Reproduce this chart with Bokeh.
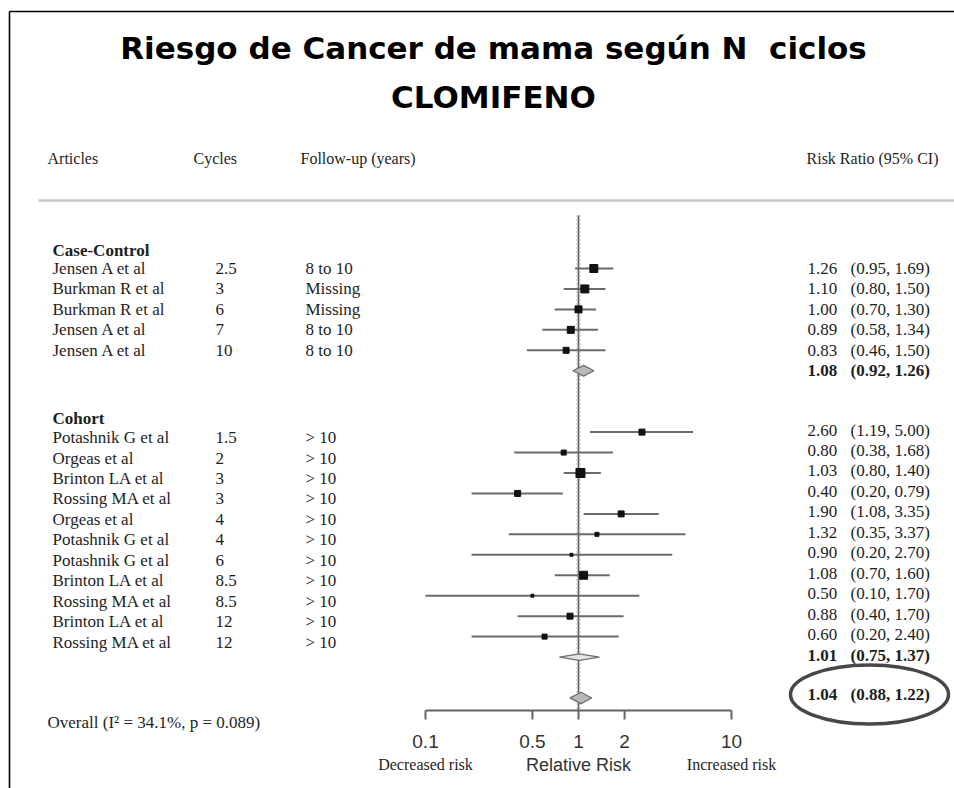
import math
from bokeh.plotting import figure
from bokeh.models import Range1d, LinearScale
from bokeh.core.properties import value
from bokeh.embed import file_html
from bokeh.resources import INLINE

# ---------------- data ----------------
title_lines = ["Riesgo de Cancer de mama según N  ciclos", "CLOMIFENO"]
header_labels = ["Articles", "Cycles", "Follow-up (years)", "Risk Ratio (95% CI)"]
group_labels = ["Case-Control", "Cohort"]

cc_articles = ["Jensen A et al", "Burkman R et al", "Burkman R et al", "Jensen A et al", "Jensen A et al"]
cc_cycles = ["2.5", "3", "6", "7", "10"]
cc_followup = ["8 to 10", "Missing", "Missing", "8 to 10", "8 to 10"]
cc_rr = [1.26, 1.10, 1.00, 0.89, 0.83]
cc_lo = [0.95, 0.80, 0.70, 0.58, 0.46]
cc_hi = [1.69, 1.50, 1.30, 1.34, 1.50]
cc_weight = [8, 8, 7, 7, 6]
cc_pooled = [1.08, 0.92, 1.26]

co_articles = ["Potashnik G et al", "Orgeas et al", "Brinton LA et al", "Rossing MA et al",
               "Orgeas et al", "Potashnik G et al", "Potashnik G et al", "Brinton LA et al",
               "Rossing MA et al", "Brinton LA et al", "Rossing MA et al"]
co_cycles = ["1.5", "2", "3", "3", "4", "4", "6", "8.5", "8.5", "12", "12"]
co_followup = ["> 10", "> 10", "> 10", "> 10", "> 10", "> 10", "> 10", "> 10", "> 10", "> 10", "> 10"]
co_rr = [2.60, 0.80, 1.03, 0.40, 1.90, 1.32, 0.90, 1.08, 0.50, 0.88, 0.60]
co_lo = [1.19, 0.38, 0.80, 0.20, 1.08, 0.35, 0.20, 0.70, 0.10, 0.40, 0.20]
co_hi = [5.00, 1.68, 1.40, 0.79, 3.35, 3.37, 2.70, 1.60, 1.70, 1.70, 2.40]
# upper whisker ends as drawn in the published figure (some differ from printed CI)
co_hi_drawn = [5.6, 1.68, 1.40, 0.79, 3.35, 5.0, 4.1, 1.60, 2.5, 1.97, 1.83]
co_weight = [6, 5, 9, 6, 6, 4, 3, 8, 3, 6, 5]
co_pooled = [1.01, 0.75, 1.37]

overall_pooled = [1.04, 0.88, 1.22]
overall_label = "Overall (I² = 34.1%, p = 0.089)"

axis_ticks = [0.1, 0.5, 1, 2, 10]
axis_tick_labels = ["0.1", "0.5", "1", "2", "10"]
axis_caption_pos = [0.1, 1, 10]
axis_captions = ["Decreased risk", "Relative Risk", "Increased risk"]

# ---------------- layout ----------------
W, H = 954, 788
X_ONE, DECADE = 578.0, 153.0      # screen x of RR = 1, px per decade
ROW0, ROW_H = 268.0, 20.45         # screen y of row 0, px per row

cc_rows = [0, 1, 2, 3, 4]
cc_sub_row = 5
co_rows = [8, 9, 10, 11, 12, 13, 14, 15, 16, 17, 18]
co_sub_row = 19
overall_row = 21
cc_head_row = -0.88
co_head_row = 7.33
co_left_shift = 0.27
co_right_shift = -0.1

SERIF = value("Liberation Serif")
SANS = value("Liberation Sans")
TXT = "#1e1e1e"
FS = "17px"

p = figure(width=W, height=H, output_backend="svg", toolbar_location=None,
           x_axis_type="log", x_axis_location=None, y_axis_location=None,
           x_range=Range1d(10 ** (-X_ONE / DECADE), 10 ** ((W - X_ONE) / DECADE)),
           y_range=Range1d((H - ROW0) / ROW_H, -ROW0 / ROW_H),
           min_border=0, min_border_left=0, min_border_right=0,
           min_border_top=0, min_border_bottom=0)
p.extra_x_ranges = {"px": Range1d(0, W)}
p.extra_x_scales = {"px": LinearScale()}
p.extra_y_ranges = {"py": Range1d(H, 0)}
p.extra_y_scales = {"py": LinearScale()}
p.grid.grid_line_color = None
p.outline_line_color = None
p.background_fill_color = "white"
p.border_fill_color = "white"

# frame lines of the slide
p.segment(x0=[9, 9], y0=[11, 11], x1=[W, 9], y1=[11, H], x_range_name="px", y_range_name="py",
          line_color="black", line_width=1.6)

# title (keep the double space visible in SVG)
shown_title = [t.replace("  ", "\u00a0 ") for t in title_lines]
p.text(x=[493, 493], y=[47, 96], text=shown_title, x_range_name="px", y_range_name="py",
       text_font=value("DejaVu Sans"), text_font_style="bold", text_font_size="31px",
       text_align="center", text_baseline="middle", text_color="black")

# column headers
p.text(x=[47, 193, 300], y=[158, 158, 158], text=header_labels[:3], x_range_name="px", y_range_name="py",
       text_font=SERIF, text_font_size="16px", text_align="left", text_baseline="middle", text_color=TXT)
p.text(x=[938], y=[158], text=header_labels[3:], x_range_name="px", y_range_name="py",
       text_font=SERIF, text_font_size="16px", text_align="right", text_baseline="middle", text_color=TXT)

# separator
p.segment(x0=[38], y0=[200], x1=[W], y1=[200], x_range_name="px", y_range_name="py",
          line_color="#c9c9c9", line_width=2.5)

# group headers
p.text(x=[52, 52], y=[cc_head_row, co_head_row], text=group_labels, x_range_name="px",
       text_font=SERIF, text_font_size=FS, text_font_style="bold",
       text_align="left", text_baseline="middle", text_color=TXT)

# left table columns
def left_cols(rows, names, cycles, follow):
    n = len(rows)
    for xs, txt in ((52, names), (215, cycles), (305, follow)):
        p.text(x=[xs] * n, y=rows, text=txt, x_range_name="px",
               text_font=SERIF, text_font_size=FS, text_align="left",
               text_baseline="middle", text_color=TXT)

left_cols(cc_rows, cc_articles, cc_cycles, cc_followup)
left_cols([r + co_left_shift for r in co_rows], co_articles, co_cycles, co_followup)

# right RR column
def rr_cols(rows, rr, lo, hi, bold=False):
    n = len(rows)
    est = [f"{v:.2f}" for v in rr]
    ci = [f"({a:.2f}, {b:.2f})" for a, b in zip(lo, hi)]
    style = "bold" if bold else "normal"
    for xs, txt in ((807, est), (850, ci)):
        p.text(x=[xs] * n, y=rows, text=txt, x_range_name="px",
               text_font=SERIF, text_font_size=FS, text_font_style=style,
               text_align="left", text_baseline="middle", text_color=TXT)

rr_cols(cc_rows, cc_rr, cc_lo, cc_hi)
rr_cols([cc_sub_row], [cc_pooled[0]], [cc_pooled[1]], [cc_pooled[2]], bold=True)
rr_cols([r + co_right_shift for r in co_rows], co_rr, co_lo, co_hi)
rr_cols([co_sub_row + co_right_shift], [co_pooled[0]], [co_pooled[1]], [co_pooled[2]], bold=True)
rr_cols([overall_row - 0.15], [overall_pooled[0]], [overall_pooled[1]], [overall_pooled[2]], bold=True)

# highlight ellipse
p.ellipse(x=[869], y=[694], width=158, height=59, width_units="screen", height_units="screen",
          x_range_name="px", y_range_name="py", fill_color=None, line_color="#474747", line_width=3.5)

# overall label
p.text(x=[47], y=[722], text=[overall_label], x_range_name="px", y_range_name="py",
       text_font=SERIF, text_font_size=FS, text_align="left", text_baseline="middle", text_color=TXT)

# reference line at RR = 1
p.segment(x0=[1], y0=[215], x1=[1], y1=[710], y_range_name="py", line_color="#5a5a5a", line_width=1.6)
p.segment(x0=[1], y0=[215], x1=[1], y1=[710], y_range_name="py", line_color="#9a9a9a",
          line_width=5, line_dash="1 3", line_alpha=0.6)

# whiskers
p.segment(x0=cc_lo, y0=cc_rows, x1=cc_hi, y1=cc_rows, line_color="#6a6a6a", line_width=2)
p.segment(x0=co_lo, y0=co_rows, x1=co_hi_drawn, y1=co_rows, line_color="#6a6a6a", line_width=2)

# study boxes
p.scatter(x=cc_rr, y=cc_rows, size=cc_weight, marker="square", fill_color="#111111", line_color="#111111")
p.scatter(x=co_rr, y=co_rows, size=co_weight, marker="square", fill_color="#111111", line_color="#111111")

# pooled diamonds
def diamond(est, row, half, fill):
    rr, lo, hi = est
    p.patch(x=[lo, rr, hi, rr], y=[row, row - half, row, row + half],
            fill_color=fill, line_color="#6f6f6f", line_width=1.3)

diamond(cc_pooled, cc_sub_row, 0.26, "#b9b9b9")
diamond(co_pooled, co_sub_row, 0.16, "#e4e4e4")
diamond(overall_pooled, overall_row, 0.28, "#b9b9b9")

# x axis (log scale)
p.segment(x0=[axis_ticks[0]], y0=[710], x1=[axis_ticks[-1]], y1=[710], y_range_name="py",
          line_color="#646464", line_width=2)
p.segment(x0=axis_ticks, y0=[710] * len(axis_ticks), x1=axis_ticks, y1=[719] * len(axis_ticks),
          y_range_name="py", line_color="#646464", line_width=2)
p.text(x=axis_ticks, y=[741] * len(axis_ticks), text=axis_tick_labels, y_range_name="py",
       text_font=SANS, text_font_size="19px", text_align="center", text_baseline="middle", text_color="#333333")
p.text(x=[axis_caption_pos[0], axis_caption_pos[2]], y=[764, 764], text=[axis_captions[0], axis_captions[2]],
       y_range_name="py", text_font=SERIF, text_font_size="16px", text_align="center",
       text_baseline="middle", text_color=TXT)
p.text(x=[axis_caption_pos[1]], y=[764], text=[axis_captions[1]], y_range_name="py",
       text_font=SANS, text_font_size="18px", text_align="center", text_baseline="middle", text_color="#333333")

open("out.html", "w").write(file_html(p, INLINE))
